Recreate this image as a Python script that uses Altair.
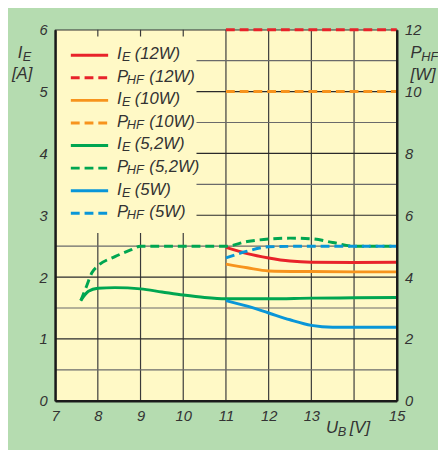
import altair as alt
import pandas as pd

# ---------------- data ----------------
series_names = ["12W", "10W", "5,2W", "5W"]
series_colors = ["#e8232a", "#f7941d", "#00a651", "#0996d8"]

# I_E [A] curves (left axis)
ie_12_x = [11, 11.5, 12, 12.5, 13, 14, 15]
ie_12_y = [2.48, 2.38, 2.31, 2.26, 2.24, 2.235, 2.24]
ie_10_x = [11, 11.5, 12, 13, 14, 15]
ie_10_y = [2.21, 2.15, 2.10, 2.09, 2.085, 2.085]
ie_52_x = [7.6, 7.78, 8.0, 8.4, 9.0, 9.5, 10.0, 10.5, 11, 12, 13, 14, 15]
ie_52_y = [1.62, 1.77, 1.82, 1.83, 1.81, 1.76, 1.71, 1.67, 1.65, 1.65, 1.66, 1.665, 1.67]
ie_5_x = [11, 11.5, 12, 12.5, 13, 13.5, 14, 15]
ie_5_y = [1.62, 1.53, 1.42, 1.31, 1.22, 1.19, 1.19, 1.19]

# P_HF [W] curves (right axis)
phf_12_x = [11, 15]
phf_12_y = [12, 12]
phf_10_x = [11, 15]
phf_10_y = [10, 10]
phf_52_x = [7.6, 7.74, 7.86, 8.0, 8.4, 8.77, 9.0, 10, 11, 11.5, 12, 12.5, 13, 13.5, 14, 15]
phf_52_y = [3.24, 3.72, 4.14, 4.36, 4.66, 4.88, 5.0, 5.0, 5.0, 5.15, 5.23, 5.26, 5.24, 5.12, 5.0, 5.0]
phf_5_x = [11, 11.5, 12, 13, 14, 15]
phf_5_y = [4.62, 4.84, 4.98, 5.0, 5.0, 5.0]

x_ticks = [7, 8, 9, 10, 11, 12, 13, 14, 15]
x_grid = [8, 9, 10, 11, 12, 13, 14]
ie_ticks = [0, 1, 2, 3, 4, 5, 6]
phf_ticks = [0, 2, 4, 6, 8, 10, 12]
ie_grid_major = [1, 2, 3, 4, 5]
ie_grid_minor = [0.5, 1.5, 2.5, 3.5, 4.5, 5.5]

legend_series = ["12W", "12W", "10W", "10W", "5,2W", "5,2W", "5W", "5W"]
legend_kind = ["I", "P", "I", "P", "I", "P", "I", "P"]
legend_rest = ["(12W)", "(12W)", "(10W)", "(10W)", "(5,2W)", "(5,2W)", "(5W)", "(5W)"]

# ---------------- tables ----------------
ie_df = pd.DataFrame(
    [{"series": s, "x": x, "v": y}
     for s, xs, ys in [("12W", ie_12_x, ie_12_y), ("10W", ie_10_x, ie_10_y),
                       ("5,2W", ie_52_x, ie_52_y), ("5W", ie_5_x, ie_5_y)]
     for x, y in zip(xs, ys)]
)
phf_df = pd.DataFrame(
    [{"series": s, "x": x, "v": y}
     for s, xs, ys in [("12W", phf_12_x, phf_12_y), ("10W", phf_10_x, phf_10_y),
                       ("5,2W", phf_52_x, phf_52_y), ("5W", phf_5_x, phf_5_y)]
     for x, y in zip(xs, ys)]
)
leg_df = pd.DataFrame({
    "row": list(range(len(legend_series))),
    "series": legend_series,
    "kind": legend_kind,
    "sym": ["I" if k == "I" else "P" for k in legend_kind],
    "sub": ["E" if k == "I" else "HF" for k in legend_kind],
    "rest": legend_rest,
})

FONT = "Liberation Sans"
TXT = "#333333"
YELLOW = "#fff9c6"
GREEN_BG = "#b5dcb0"

color_enc = alt.Color("series:N", scale=alt.Scale(domain=series_names, range=series_colors), legend=None)
xscale = alt.Scale(domain=[7, 15], nice=False, zero=False)
xaxis = alt.Axis(values=x_ticks, labelExpr="datum.value == 14 ? '' : datum.label",
                 title=None, grid=False, ticks=False, labelFlush=False, labelPadding=8,
                 domainWidth=2.5, domainColor="#1a1a1a", labelFont=FONT, labelFontSize=15,
                 labelFontStyle="italic", labelColor=TXT, zindex=1)
yL = alt.Scale(domain=[0, 6], nice=False, zero=True)
yR = alt.Scale(domain=[0, 12], nice=False, zero=True)
rowscale = alt.Scale(domain=[0, 7], range=[26, 187])

# ---------------- grid ----------------
vgrid = alt.Chart(pd.DataFrame({"x": x_grid})).mark_rule(color="#3a3a3a", strokeWidth=1.2).encode(
    x=alt.X("x:Q", scale=xscale, axis=xaxis))
hgrid_major = alt.Chart(pd.DataFrame({"g": ie_grid_major})).mark_rule(color="#2a2a2a", strokeWidth=1.2).encode(
    y=alt.Y("g:Q", scale=yL, axis=None))
hgrid_minor = alt.Chart(pd.DataFrame({"g": ie_grid_minor})).mark_rule(color="#6a6a6a", strokeWidth=1.2).encode(
    y=alt.Y("g:Q", scale=yL, axis=None))

# legend background (hides the grid behind the legend)
legend_bg = alt.Chart(pd.DataFrame({"a": [0]})).mark_rect(fill=YELLOW).encode(
    x=alt.value(0), x2=alt.value(144), y=alt.value(7), y2=alt.value(207))

# ---------------- curves ----------------
ie_lines = alt.Chart(ie_df).mark_line(strokeWidth=3, interpolate="monotone").encode(
    x=alt.X("x:Q", scale=xscale, axis=xaxis),
    y=alt.Y("v:Q", scale=yL, axis=alt.Axis(orient="left", values=ie_ticks, title=None, grid=False,
                                             ticks=False, labelPadding=8, domainWidth=2.5,
                                             domainColor="#1a1a1a", labelFont=FONT, labelFontSize=15,
                                             labelFontStyle="italic", labelColor=TXT, zindex=1)),
    color=color_enc, detail="series:N")

phf_lines = alt.Chart(phf_df).mark_line(strokeWidth=3, strokeDash=[9, 5], interpolate="monotone").encode(
    x=alt.X("x:Q", scale=xscale, axis=xaxis),
    y=alt.Y("v:Q", scale=yR, axis=alt.Axis(orient="right", values=phf_ticks, title=None, grid=False,
                                             ticks=False, labelPadding=8, domainWidth=2.5,
                                             domainColor="#1a1a1a", labelFont=FONT, labelFontSize=15,
                                             labelFontStyle="italic", labelColor=TXT, zindex=1)),
    color=color_enc, detail="series:N")

# ---------------- legend ----------------
leg_y = alt.Y("row:Q", scale=rowscale, axis=None)
leg_lines = alt.Chart(leg_df).mark_rule(strokeWidth=3).encode(
    x=alt.value(16), x2=alt.value(54), y=leg_y, color=color_enc,
    strokeDash=alt.StrokeDash("kind:N", scale=alt.Scale(domain=["I", "P"], range=[[1, 0], [9, 5]]), legend=None))

txt_props = dict(align="left", baseline="alphabetic", font=FONT, fontStyle="italic", color=TXT)
leg_sym = alt.Chart(leg_df).mark_text(fontSize=17, dy=4, **txt_props).encode(
    x=alt.value(63), y=leg_y, text="sym:N")
leg_sub_i = alt.Chart(leg_df).transform_filter("datum.kind == 'I'").mark_text(fontSize=13, dy=6, **txt_props).encode(
    x=alt.value(68), y=leg_y, text="sub:N")
leg_sub_p = alt.Chart(leg_df).transform_filter("datum.kind == 'P'").mark_text(fontSize=13, dy=6, **txt_props).encode(
    x=alt.value(73), y=leg_y, text="sub:N")
leg_rest_i = alt.Chart(leg_df).transform_filter("datum.kind == 'I'").mark_text(fontSize=17, dy=4, **txt_props).encode(
    x=alt.value(81), y=leg_y, text="rest:N")
leg_rest_p = alt.Chart(leg_df).transform_filter("datum.kind == 'P'").mark_text(fontSize=17, dy=4, **txt_props).encode(
    x=alt.value(96), y=leg_y, text="rest:N")

# ---------------- axis titles ----------------
def label(text, x, y, size=17):
    return alt.Chart(pd.DataFrame({"a": [0]})).mark_text(fontSize=size, **txt_props).encode(
        x=alt.value(x), y=alt.value(y), text=alt.value(text))

titles = [
    label("I", -38, 29), label("E", -33, 32, 13), label("[A]", -44, 50),
    label("P", 362, 29), label("HF", 373, 32, 13), label("[W]", 362, 51),
    label("U", 276, 411), label("B", 288, 414, 13), label("[V]", 300, 411),
]

chart = alt.layer(
    vgrid, hgrid_minor, hgrid_major, legend_bg, ie_lines, phf_lines,
    leg_lines, leg_sym, leg_sub_i, leg_sub_p, leg_rest_i, leg_rest_p, *titles
).resolve_scale(y="independent").properties(
    width=348, height=378,
    autosize=alt.AutoSizeParams(type="none"),
    padding={"left": 48, "top": 18, "right": 42, "bottom": 46},
    background=GREEN_BG,
).configure_view(fill=YELLOW, stroke="#333333", strokeWidth=1.2)

chart.save("out.html", embed_options={"renderer": "svg", "actions": False})
